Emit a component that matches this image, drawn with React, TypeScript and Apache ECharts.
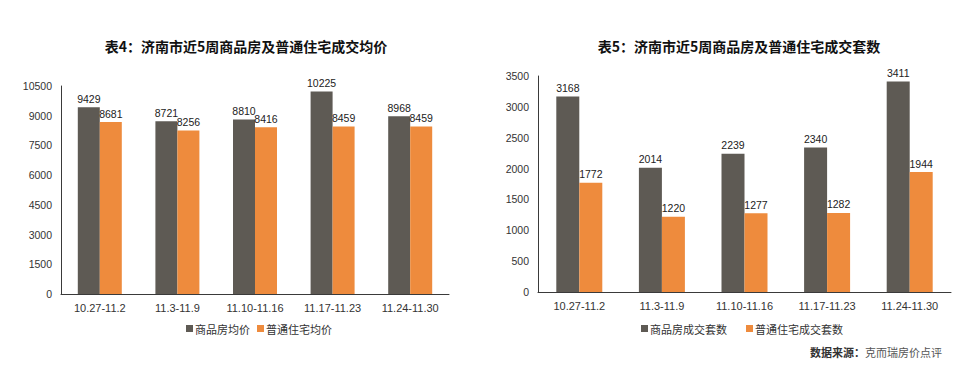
import React, { useEffect, useRef } from "react";
import * as echarts from "echarts";

const weeks = ["10.27-11.2", "11.3-11.9", "11.10-11.16", "11.17-11.23", "11.24-11.30"];
const avgPriceCommercial = [9429, 8721, 8810, 10225, 8968];
const avgPriceOrdinary = [8681, 8256, 8416, 8459, 8459];
const dealsCommercial = [3168, 2014, 2239, 2340, 3411];
const dealsOrdinary = [1772, 1220, 1277, 1282, 1944];

const DARK = "#5e5a54";
const ORANGE = "#ee8b3d";
const AXIS = "#3a3a3a";
const NUM_FONT = "Liberation Sans";
const CJK_FONT = "Noto Sans CJK SC";

export default function App() {
  const ref = useRef<HTMLDivElement>(null);
  useEffect(() => {
    document.body.style.margin = "0";
    if (!ref.current) return;
    const chart = echarts.init(ref.current, undefined, { renderer: "svg" });
    const label = {
      show: true,
      position: "top" as const,
      distance: 3,
      color: "#222",
      fontFamily: NUM_FONT,
      fontSize: 10.5,
    };
    const xAxisCommon = {
      type: "category" as const,
      data: weeks,
      axisLine: { lineStyle: { color: AXIS, width: 1 } },
      axisTick: { show: false },
      axisLabel: { color: "#333", fontFamily: NUM_FONT, fontSize: 11, margin: 8 },
    };
    const yAxisCommon = {
      type: "value" as const,
      min: 0,
      splitLine: { show: false },
      axisLine: { show: true, lineStyle: { color: AXIS, width: 1 } },
      axisTick: { show: false },
      axisLabel: {
        color: "#333",
        fontFamily: NUM_FONT,
        fontSize: 10.5,
        margin: 9,
        formatter: (v: number) => String(v),
      },
    };
    chart.setOption({
      animation: false,
      backgroundColor: "#ffffff",
      title: [
        {
          text: "表4：济南市近5周商品房及普通住宅成交均价",
          left: 241,
          top: 34,
          textAlign: "center",
          textStyle: { fontFamily: CJK_FONT, fontSize: 14, fontWeight: "bold", color: "#111" },
        },
        {
          text: "表5：济南市近5周商品房及普通住宅成交套数",
          left: 734,
          top: 34,
          textAlign: "center",
          textStyle: { fontFamily: CJK_FONT, fontSize: 14, fontWeight: "bold", color: "#111" },
        },
      ],
      legend: [
        {
          data: ["商品房均价", "普通住宅均价"],
          left: 181,
          top: 318,
          itemWidth: 7,
          itemHeight: 7,
          itemGap: 7,
          icon: "rect",
          textStyle: { fontFamily: CJK_FONT, fontSize: 11, color: "#333", padding: [0, 0, 0, -3] },
        },
        {
          data: ["商品房成交套数", "普通住宅成交套数"],
          left: 636,
          top: 318,
          itemWidth: 7,
          itemHeight: 7,
          itemGap: 19,
          icon: "rect",
          textStyle: { fontFamily: CJK_FONT, fontSize: 11, color: "#333", padding: [0, 0, 0, -3] },
        },
      ],
      grid: [
        { left: 61, top: 86, width: 388, height: 208 },
        { left: 538, top: 76, width: 413, height: 216 },
      ],
      xAxis: [
        { ...xAxisCommon, gridIndex: 0 },
        { ...xAxisCommon, gridIndex: 1 },
      ],
      yAxis: [
        { ...yAxisCommon, gridIndex: 0, max: 10500, interval: 1500 },
        { ...yAxisCommon, gridIndex: 1, max: 3500, interval: 500 },
      ],
      series: [
        {
          name: "商品房均价",
          type: "bar",
          xAxisIndex: 0,
          yAxisIndex: 0,
          data: avgPriceCommercial,
          barWidth: 22,
          barGap: "0%",
          itemStyle: { color: DARK },
          label,
        },
        {
          name: "普通住宅均价",
          type: "bar",
          xAxisIndex: 0,
          yAxisIndex: 0,
          data: avgPriceOrdinary,
          barWidth: 22,
          barGap: "0%",
          itemStyle: { color: ORANGE },
          label,
        },
        {
          name: "商品房成交套数",
          type: "bar",
          xAxisIndex: 1,
          yAxisIndex: 1,
          data: dealsCommercial,
          barWidth: 23,
          barGap: "0%",
          itemStyle: { color: DARK },
          label,
        },
        {
          name: "普通住宅成交套数",
          type: "bar",
          xAxisIndex: 1,
          yAxisIndex: 1,
          data: dealsOrdinary,
          barWidth: 23,
          barGap: "0%",
          itemStyle: { color: ORANGE },
          label,
        },
      ],
      graphic: [
        {
          type: "text",
          right: 36,
          top: 346,
          style: {
            rich: {
              a: { fontFamily: CJK_FONT, fontSize: 11, fontWeight: "bold", fill: "#333" },
              b: { fontFamily: CJK_FONT, fontSize: 11, fill: "#555" },
            },
            text: "{a|数据来源：}{b|克而瑞房价点评}",
          },
        },
      ],
    });
    return () => chart.dispose();
  }, []);
  return <div ref={ref} style={{ width: 978, height: 369 }} />;
}
